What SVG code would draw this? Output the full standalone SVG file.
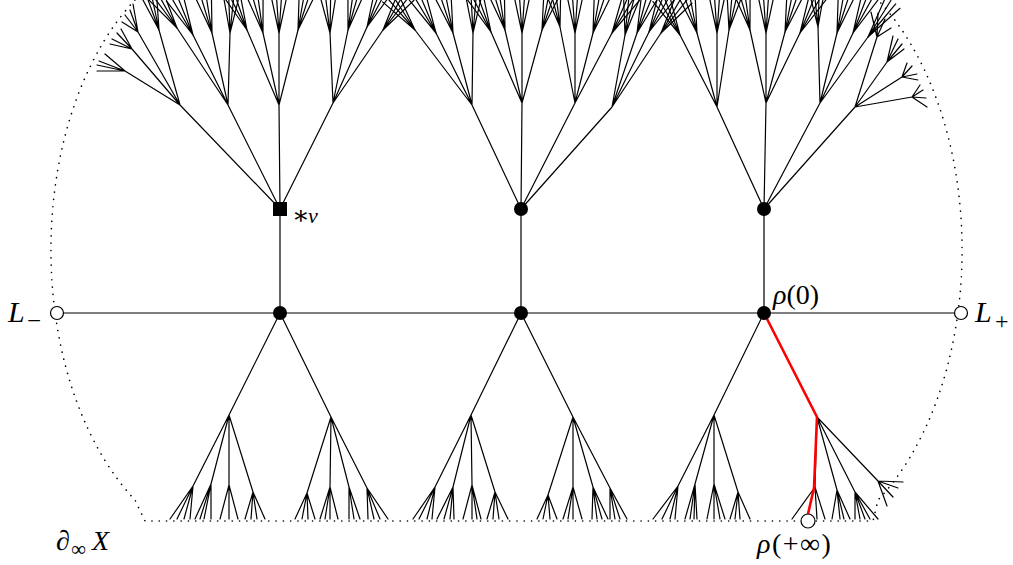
<svg xmlns="http://www.w3.org/2000/svg" xmlns:xlink="http://www.w3.org/1999/xlink" width="1013" height="565" viewBox="0 0 1013 565">
<style>
.e{stroke:#000;stroke-width:1.2;fill:none;stroke-linecap:round}
.bd{stroke:#000;stroke-width:1.6;fill:none;stroke-dasharray:0.1 7.2;stroke-linecap:round}
.red{stroke:#ff0000;stroke-width:2.6;fill:none;stroke-linejoin:round}
.dot{fill:#000}
.open{fill:#fff;stroke:#000;stroke-width:1.2}
.t{font-family:"Liberation Serif","DejaVu Serif",serif;font-style:italic;fill:#000}
.r{font-family:"Liberation Serif","DejaVu Serif",serif;font-style:normal;fill:#000}
</style>
<defs>
<path id="f" class="e" d="M0,0L-9,-42M0,0L-3,-43M0,0L3,-43M0,0L9,-42"/>
</defs>
<rect width="1013" height="565" fill="#fff"/>
<g id="boundary">
<path class="bd" d="M135,0 A188,300 0 0 0 135,500 L145,521 L873,521 L878,500 A188,300 0 0 0 878,0"/>
</g>
<g id="connectors">
<path class="e" d="M57,313H961 M280,209V313 M521,209V313 M764,209V313"/>
<path class="e" d="M280,313L229,415 M280,313L331,417
M229,415L193,486 M229,415L211,484 M229,415L229,485 M229,415L253,492
M193,486L170,519 M193,486L177,519 M193,486L184,519 M193,486L190,519
M211,484L195,519 M211,484L200,519 M211,484L204,519 M211,484L211,519
M229,485L220,519 M229,485L229,519 M229,485L238,519
M253,492L245,519 M253,492L251,519 M253,492L257,519 M253,492L265,519
M331,417L307,493 M331,417L330,487 M331,417L349,487 M331,417L367,488
M307,493L295,519 M307,493L302,519 M307,493L308,519 M307,493L315,519
M330,487L320,519 M330,487L325,519 M330,487L330,519 M330,487L338,519
M349,487L349,519 M349,487L354,519 M349,487L360,519
M367,488L368,519 M367,488L374,519 M367,488L380,519 M367,488L388,519"/>
<path class="e" d="M521,313L471,415 M521,313L573,417
M471,415L435,487 M471,415L453,487 M471,415L472,485 M471,415L495,492
M435,487L413,519 M435,487L419,519 M435,487L427,519 M435,487L432,519
M453,487L437,519 M453,487L444,519 M453,487L450,519 M453,487L454,519
M472,485L463,519 M472,485L472,519 M472,485L477,519 M472,485L481,519
M495,492L487,519 M495,492L493,519 M495,492L499,519 M495,492L508,519
M573,417L548,495 M573,417L573,487 M573,417L593,487 M573,417L610,488
M548,495L537,519 M548,495L543,519 M548,495L550,519 M548,495L557,519
M573,487L563,519 M573,487L568,519 M573,487L573,519 M573,487L582,519
M593,487L592,519 M593,487L597,519 M593,487L602,519 M593,487L608,519
M610,488L610,519 M610,488L615,519 M610,488L620,519 M610,488L627,519"/>
<path class="e" d="M764,313L714,415
M714,415L678,486 M714,415L695,484 M714,415L714,484 M714,415L738,492
M678,486L653,519 M678,486L662,519 M678,486L670,519 M678,486L675,519
M695,484L685,519 M695,484L690,519 M695,484L694,519 M695,484L697,519
M714,484L707,519 M714,484L714,519 M714,484L720,519 M714,484L725,519
M738,492L730,519 M738,492L735,519 M738,492L740,519 M738,492L750,519
M817,417L815,487 M817,417L837,490 M817,417L855,492 M817,417L878,481
M815,487L792,519 M815,487L817,519 M815,487L825,519
M837,490L832,519 M837,490L840,519 M837,490L844,519 M837,490L850,519
M855,492L855,519 M855,492L860,519 M855,492L865,519 M855,492L870,519 M855,492L878,519
M878,481L903,482 M878,481L898,488 M878,481L893,497 M878,481L887,506"/>
<path class="red" d="M764,313L817,417L814,488L808,514"/>
<path class="e" d="M280,209L180,105 M280,209L228,105 M280,209L279,105 M280,209L333,103
M180,105L125,71 M180,105L132,49 M180,105L138,32 M180,105L159,30
M125,71L97,71 M125,71L97,65 M125,71L99,61 M125,71L105,54
M132,49L110,44 M132,49L112,39 M132,49L117,33 M132,49L121,29
M138,32L122,22 M138,32L125,15 M138,32L130,10 M138,32L133,4
M228,105L177,28 M228,105L193,35 M228,105L212,33 M228,105L230,33
M279,105L247,30 M279,105L263,33 M279,105L279,33 M279,105L298,30
M333,103L330,33 M333,103L348,30 M333,103L367,27 M333,103L383,30"/>
<use xlink:href="#f" href="#f" transform="translate(159,30) rotate(-16)"/>
<use xlink:href="#f" href="#f" transform="translate(177,28) rotate(-33)"/>
<use xlink:href="#f" href="#f" transform="translate(193,35) rotate(-26)"/>
<use xlink:href="#f" href="#f" transform="translate(212,33) rotate(-13)"/>
<use xlink:href="#f" href="#f" transform="translate(230,33) rotate(2)"/>
<use xlink:href="#f" href="#f" transform="translate(247,30) rotate(-23)"/>
<use xlink:href="#f" href="#f" transform="translate(263,33) rotate(-12)"/>
<use xlink:href="#f" href="#f" transform="translate(279,33) rotate(0)"/>
<use xlink:href="#f" href="#f" transform="translate(298,30) rotate(14)"/>
<use xlink:href="#f" href="#f" transform="translate(330,33) rotate(-3)"/>
<use xlink:href="#f" href="#f" transform="translate(348,30) rotate(12)"/>
<use xlink:href="#f" href="#f" transform="translate(367,27) rotate(24)"/>
<use xlink:href="#f" href="#f" transform="translate(383,30) rotate(34)"/>
<path class="e" d="M521,209L472,105 M521,209L522,103 M521,209L575,103 M521,209L612,107
M472,105L415,30 M472,105L436,33 M472,105L453,33 M472,105L473,33
M522,103L491,32 M522,103L505,30 M522,103L522,33 M522,103L542,30
M575,103L560,27 M575,103L575,33 M575,103L593,33 M575,103L612,33
M612,107L625,35 M612,107L637,33 M612,107L649,32 M612,107L661,33"/>
<use xlink:href="#f" href="#f" transform="translate(415,30) rotate(-37)"/>
<use xlink:href="#f" href="#f" transform="translate(436,33) rotate(-27)"/>
<use xlink:href="#f" href="#f" transform="translate(453,33) rotate(-15)"/>
<use xlink:href="#f" href="#f" transform="translate(473,33) rotate(1)"/>
<use xlink:href="#f" href="#f" transform="translate(491,32) rotate(-24)"/>
<use xlink:href="#f" href="#f" transform="translate(505,30) rotate(-13)"/>
<use xlink:href="#f" href="#f" transform="translate(522,33) rotate(0)"/>
<use xlink:href="#f" href="#f" transform="translate(542,30) rotate(15)"/>
<use xlink:href="#f" href="#f" transform="translate(560,27) rotate(-11)"/>
<use xlink:href="#f" href="#f" transform="translate(575,33) rotate(0)"/>
<use xlink:href="#f" href="#f" transform="translate(593,33) rotate(14)"/>
<use xlink:href="#f" href="#f" transform="translate(612,33) rotate(28)"/>
<use xlink:href="#f" href="#f" transform="translate(625,35) rotate(10)"/>
<use xlink:href="#f" href="#f" transform="translate(637,33) rotate(19)"/>
<use xlink:href="#f" href="#f" transform="translate(649,32) rotate(26)"/>
<use xlink:href="#f" href="#f" transform="translate(661,33) rotate(34)"/>
<path class="e" d="M764,209L717,107 M764,209L766,103 M764,209L820,103 M764,209L855,107
M717,107L680,35 M717,107L697,33 M717,107L717,33 M717,107L729,30
M766,103L750,30 M766,103L766,33 M766,103L785,32 M766,103L800,33
M820,103L818,27 M820,103L837,33 M820,103L853,33 M820,103L868,37
M855,107L877,37 M855,107L887,62 M855,107L902,77 M855,107L912,97
M877,37L871,12 M877,37L878,13 M877,37L885,19 M877,37L891,28
M887,62L893,36 M887,62L898,39 M887,62L902,44 M887,62L904,49
M902,77L907,63 M902,77L912,66 M902,77L917,74 M902,77L918,80
M912,97L920,85 M912,97L923,90 M912,97L926,98 M912,97L927,107"/>
<use xlink:href="#f" href="#f" transform="translate(680,35) rotate(-27)"/>
<use xlink:href="#f" href="#f" transform="translate(697,33) rotate(-15)"/>
<use xlink:href="#f" href="#f" transform="translate(717,33) rotate(0)"/>
<use xlink:href="#f" href="#f" transform="translate(729,30) rotate(9)"/>
<use xlink:href="#f" href="#f" transform="translate(750,30) rotate(-12)"/>
<use xlink:href="#f" href="#f" transform="translate(766,33) rotate(0)"/>
<use xlink:href="#f" href="#f" transform="translate(785,32) rotate(15)"/>
<use xlink:href="#f" href="#f" transform="translate(800,33) rotate(26)"/>
<use xlink:href="#f" href="#f" transform="translate(818,27) rotate(-2)"/>
<use xlink:href="#f" href="#f" transform="translate(837,33) rotate(14)"/>
<use xlink:href="#f" href="#f" transform="translate(853,33) rotate(25)"/>
<use xlink:href="#f" href="#f" transform="translate(868,37) rotate(36)"/>
</g>
<g id="node-Lminus"><circle class="open" cx="57" cy="313" r="6.5"/></g>
<g id="node-Lplus"><circle class="open" cx="961" cy="313" r="6.5"/></g>
<g id="node-a"><circle class="dot" cx="280" cy="313" r="7"/></g>
<g id="node-b"><circle class="dot" cx="521" cy="313" r="7"/></g>
<g id="node-rho0"><circle class="dot" cx="764" cy="313" r="7"/></g>
<g id="node-v"><rect class="dot" x="273" y="202" width="14" height="14"/></g>
<g id="node-b-top"><circle class="dot" cx="521" cy="209" r="7"/></g>
<g id="node-c-top"><circle class="dot" cx="764" cy="209" r="7"/></g>
<g id="node-rhoinf"><circle class="open" cx="808" cy="521" r="7"/></g>
<g id="labels">
<text class="t" x="8" y="322" font-size="30">L</text><text class="r" x="27" y="329" font-size="25">−</text>
<text class="t" x="975" y="322" font-size="30">L</text><text class="r" x="995" y="329" font-size="24">+</text>
<text class="t" x="773" y="304" font-size="28">ρ<tspan class="r">(0)</tspan></text>
<text class="r" x="292" y="224" font-size="26">∗</text><text class="t" x="308" y="223" font-size="22">v</text>
<text class="t" x="757" y="553" font-size="28" letter-spacing="1.5">ρ<tspan class="r">(+∞)</tspan></text>
<text class="t" x="56" y="550" font-size="28">∂</text><text class="r" x="71" y="556" font-size="21">∞</text><text class="t" x="92" y="550" font-size="28">X</text>
</g>
</svg>
